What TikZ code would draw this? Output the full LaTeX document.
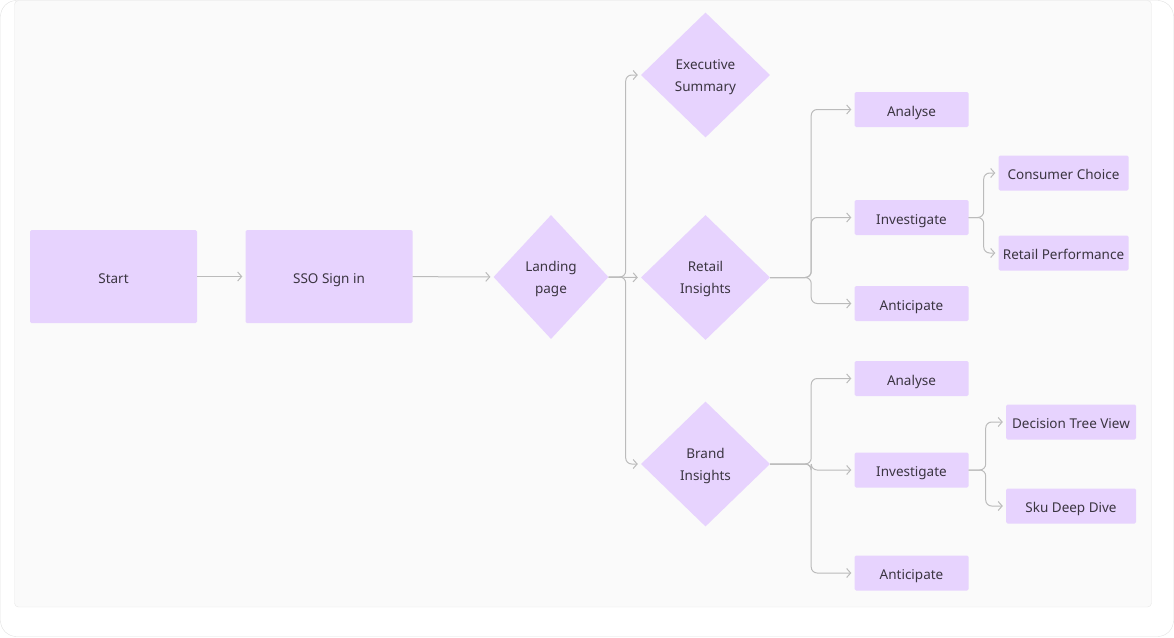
\documentclass[tikz,border=0pt]{standalone}
\usepackage{fontspec}
\setmainfont{Noto Sans}
\usetikzlibrary{shapes.geometric, arrows.meta}
\definecolor{boxfill}{HTML}{E7D3FE}
\definecolor{linkgray}{HTML}{BBBBBB}
\definecolor{txtgray}{HTML}{3B3541}
\definecolor{panelbg}{HTML}{FAFAFA}
\definecolor{framegray}{HTML}{E2E2E2}
% taller first line, so the two lines sit a little lower
\newcommand{\firstline}{\rule{0pt}{14pt}}

\begin{document}
\begin{tikzpicture}[x=1pt, y=-1pt,
  box/.style={rectangle, fill=boxfill, rounded corners=1.5pt, text=txtgray,
    font=\fontsize{13.5}{22}\selectfont, inner sep=0pt,
    text height=13.5pt, text depth=0pt},
  bigbox/.style={box, minimum width=167pt, minimum height=93pt},
  smallbox/.style={box, minimum width=114pt, minimum height=35pt},
  widebox/.style={box, minimum width=130pt, minimum height=35pt},
  choice/.style={diamond, fill=boxfill, text=txtgray, align=center,
    font=\fontsize{13.5}{22}\selectfont, inner sep=0pt,
    minimum width=129pt, minimum height=125pt},
  link/.style={draw=linkgray, line width=1pt, rounded corners=6pt,
    -{Straight Barb[length=4pt, width=9pt]}, shorten >=3pt}]

  % Frame and panel
  \useasboundingbox (0,0) rectangle (1174,637);
  \draw[framegray, fill=white, rounded corners=16pt] (0.5,0.5) rectangle (1173.5,636.5);
  \draw[framegray!80, fill=panelbg, rounded corners=4pt] (14.5,0.5) rectangle (1151.5,607);

  % Main line
  \node[bigbox] (start) at (113.5,276.5) {Start};
  \node[bigbox] (sso) at (329,276.5) {SSO Sign in};
  \node[choice, minimum width=115pt, minimum height=124pt] (landing) at (551,277) {\firstline Landing\\page};

  % Dashboards
  \node[choice] (exec) at (705.5,75) {\firstline Executive\\Summary};
  \node[choice] (retail) at (705.5,277.5) {\firstline Retail\\Insights};
  \node[choice] (brand) at (705.5,464) {\firstline Brand\\Insights};

  % Retail branch
  \node[smallbox] (ranalyse) at (911.5,109.5) {Analyse};
  \node[smallbox] (rinvest) at (911.5,217.5) {Investigate};
  \node[smallbox] (rantic) at (911.5,303.5) {Anticipate};
  \node[widebox] (consumer) at (1063.5,173) {Consumer Choice};
  \node[widebox] (retperf) at (1063.5,253) {Retail Performance};

  % Brand branch
  \node[smallbox] (banalyse) at (911.5,378.5) {Analyse};
  \node[smallbox] (binvest) at (911.5,470) {Investigate};
  \node[smallbox] (bantic) at (911.5,573) {Anticipate};
  \node[widebox] (decision) at (1071,422) {Decision Tree View};
  \node[widebox] (skudive) at (1071,506) {Sku Deep Dive};

  % Connectors
  \draw[link] (start) -- (sso);
  \draw[link] (sso) -- (landing);
  \draw[link] (landing.east) -- ++(17,0) |- (exec.west);
  \draw[link] (landing.east) -- (retail.west);
  \draw[link] (landing.east) -- ++(17,0) |- (brand.west);

  \draw[link] (retail.east) -- ++(41,0) |- (ranalyse.west);
  \draw[link] (retail.east) -- ++(41,0) |- (rinvest.west);
  \draw[link] (retail.east) -- ++(41,0) |- (rantic.west);
  \draw[link] (rinvest.east) -- ++(15,0) |- (consumer.west);
  \draw[link] (rinvest.east) -- ++(15,0) |- (retperf.west);

  \draw[link] (brand.east) -- ++(41,0) |- (banalyse.west);
  \draw[link] (brand.east) -- ++(41,0) |- (binvest.west);
  \draw[link] (brand.east) -- ++(41,0) |- (bantic.west);
  \draw[link] (binvest.east) -- ++(17,0) |- (decision.west);
  \draw[link] (binvest.east) -- ++(17,0) |- (skudive.west);
\end{tikzpicture}
\end{document}
